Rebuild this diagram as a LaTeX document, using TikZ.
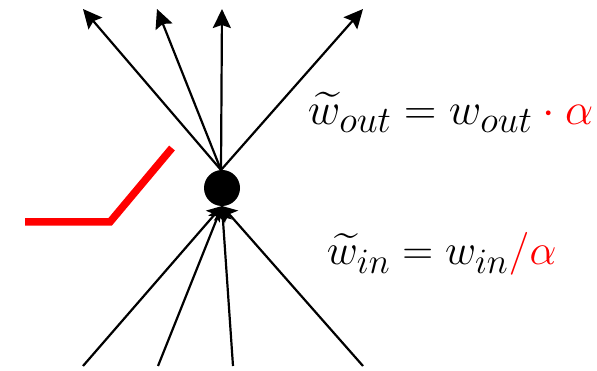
\documentclass[tikz,border=0pt]{standalone}
\usepackage{amsmath,amssymb}
\usetikzlibrary{arrows.meta}
\begin{document}
\begin{tikzpicture}[x=1pt, y=-1pt, line width=2.2pt]
    \useasboundingbox (0,0) rectangle (597,371);
    \coordinate (T) at (221,170);
    \coordinate (U) at (222,206);
    \coordinate (O1) at (83,9);
    \coordinate (O2) at (157,9);
    \coordinate (O3) at (222,9);
    \coordinate (O4) at (363,9);
    \coordinate (I1) at (83,366);
    \coordinate (I2) at (158,366);
    \coordinate (I3) at (233,366);
    \coordinate (I4) at (363,366);
    \foreach \p in {O1,O2,O3,O4}
        \draw[-{Stealth[length=19pt,width=18pt,inset=3pt]}] (T) -- (\p);
    \foreach \p in {I1,I2,I3,I4}
        \draw[-{Stealth[length=14pt,width=18pt,inset=3pt]}] (\p) -- (U);
    \node[circle, fill, inner sep=0pt, minimum size=36pt] (n) at (222,188) {};
    % relu
    \draw[red, line width=7.5pt] (25,222) -- (110,222) -- (172,148);
    \node[anchor=base west, inner sep=0pt, scale=1.8] (wout) at (306,125)
        {\Huge $\widetilde{w}_{out} = w_{out} \color{red} \cdot \alpha$};
    \node[anchor=base west, inner sep=0pt, scale=1.72] (win) at (325,265)
        {\Huge $\widetilde{w}_{in} = w_{in}\textcolor{red}{/\alpha}$};
\end{tikzpicture}
\end{document}
